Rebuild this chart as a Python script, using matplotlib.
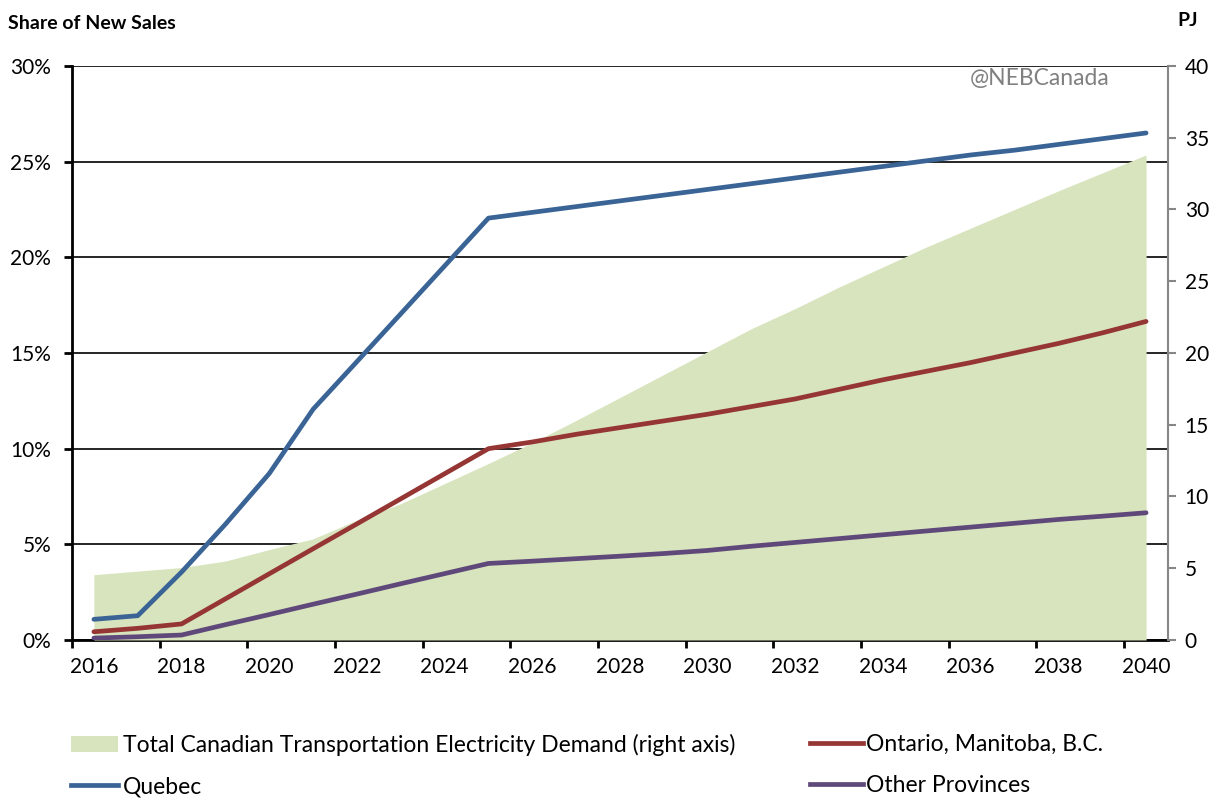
import numpy as np
import matplotlib.pyplot as plt
from matplotlib.patches import Patch
from matplotlib.lines import Line2D

plt.rcParams['font.family'] = ['Lato', 'DejaVu Sans']

years = list(range(2016, 2041))

# share of new sales (%), left axis
quebec = [1.08, 1.27, 3.55, 6.05, 8.7, 12.06, 14.55, 17.05, 19.55, 22.05,
          22.35, 22.65, 22.95, 23.25, 23.55, 23.85, 24.15, 24.45, 24.75, 25.05,
          25.35, 25.6, 25.9, 26.2, 26.5]
ontario = [0.43, 0.61, 0.84, 2.15, 3.46, 4.77, 6.07, 7.38, 8.69, 10.0,
           10.35, 10.75, 11.1, 11.45, 11.8, 12.2, 12.6, 13.1, 13.6, 14.05,
           14.5, 15.0, 15.5, 16.05, 16.65]
other = [0.1, 0.17, 0.26, 0.8, 1.33, 1.87, 2.4, 2.94, 3.47, 4.0,
         4.12, 4.25, 4.38, 4.52, 4.68, 4.9, 5.1, 5.3, 5.5, 5.7,
         5.9, 6.1, 6.3, 6.47, 6.65]

# total transportation electricity demand (PJ), right axis
demand = [4.55, 4.8, 5.05, 5.5, 6.3, 7.05, 8.35, 9.5, 10.9, 12.3,
          13.75, 15.3, 16.9, 18.5, 20.1, 21.7, 23.1, 24.6, 26.0, 27.4,
          28.7, 30.0, 31.3, 32.55, 33.8]

left_ticks = [0, 5, 10, 15, 20, 25, 30]
right_ticks = [0, 5, 10, 15, 20, 25, 30, 35, 40]
year_labels = list(range(2016, 2041, 2))

c_que = '#3B6496'
c_ont = '#963634'
c_oth = '#5F497A'
c_area = '#D7E4BD'
grey = '#868686'

fig = plt.figure(figsize=(12.26, 7.98), dpi=100)
rect = [0.0587, 0.198, 0.894, 0.7193]

# base axes: left scale, gridlines, x axis
ax = fig.add_axes(rect)
ax.set_xlim(2015.5, 2040.5)
ax.set_ylim(0, 30)
ax.set_yticks(left_ticks)
ax.set_yticklabels([f'{v}%' for v in left_ticks])
ax.set_xticks(year_labels)
ax.set_xticks(np.arange(2015.5, 2040.5, 2), minor=True)
ax.tick_params(axis='x', which='major', length=0, pad=12, labelsize=15)
ax.tick_params(axis='x', which='minor', length=6, width=2, direction='out', color='black')
ax.tick_params(axis='y', length=6, width=2, direction='out', pad=9, labelsize=15)
ax.yaxis.grid(True, color='black', linewidth=1.2)
ax.set_axisbelow(True)
for s in ['top', 'right']:
    ax.spines[s].set_visible(False)
ax.spines['left'].set_linewidth(2)
ax.spines['bottom'].set_linewidth(2)
ax.spines['bottom'].set_zorder(5)

# secondary axes: demand area
ax2 = ax.twinx()
ax2.set_ylim(0, 40)
ax2.set_yticks(right_ticks)
ax2.fill_between(years, 0, demand, color=c_area, linewidth=0)
ax2.tick_params(axis='y', length=6, width=1.5, color=grey, pad=6, labelsize=15)
for s in ['top', 'left', 'bottom']:
    ax2.spines[s].set_visible(False)
ax2.spines['right'].set_color(grey)
ax2.spines['right'].set_linewidth(1.5)
ax2.patch.set_visible(False)

# top layer: lines on left scale
ax3 = fig.add_axes(rect, sharex=ax, sharey=ax)
ax3.axis('off')
ax3.patch.set_visible(False)
lw = 3.4
ax3.plot(years, other, color=c_oth, lw=lw, solid_capstyle='round')
ax3.plot(years, ontario, color=c_ont, lw=lw, solid_capstyle='round')
ax3.plot(years, quebec, color=c_que, lw=lw, solid_capstyle='round')

fig.text(0.0065, 0.971, 'Share of New Sales', fontsize=14, fontweight='bold', va='center')
fig.text(0.960, 0.974, 'PJ', fontsize=14, fontweight='bold', va='center')
fig.text(0.848, 0.902, '@NEBCanada', fontsize=16.5, color='#808080', ha='center', va='center')

h1 = [Patch(facecolor=c_area, edgecolor='none'),
      Line2D([], [], color=c_que, lw=lw)]
l1 = ['Total Canadian Transportation Electricity Demand (right axis)', 'Quebec']
h2 = [Line2D([], [], color=c_ont, lw=lw),
      Line2D([], [], color=c_oth, lw=lw)]
l2 = ['Ontario, Manitoba, B.C.', 'Other Provinces']

fig.legend(h1, l1, loc='upper left', bbox_to_anchor=(0.058, 0.080),
           frameon=False, fontsize=16.5, handlelength=2.05, handletextpad=0.22,
           labelspacing=0.88, borderpad=0, borderaxespad=0)
fig.legend(h2, l2, loc='upper left', bbox_to_anchor=(0.661, 0.080),
           frameon=False, fontsize=16.5, handlelength=2.3, handletextpad=0.13,
           labelspacing=0.88, borderpad=0, borderaxespad=0)

fig.savefig('out.png', dpi=100)
